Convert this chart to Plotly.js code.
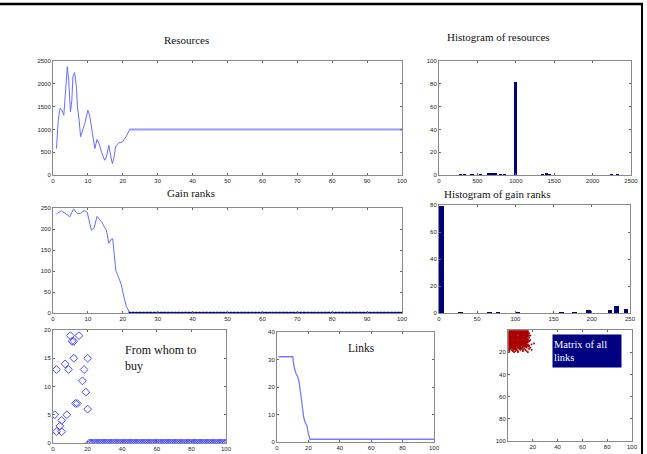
<!DOCTYPE html>
<html><head><meta charset="utf-8">
<script src="https://cdn.plot.ly/plotly-3.0.1.min.js"></script>
<style>html,body{margin:0;padding:0;background:#fff;}#chart{width:647px;height:454px;}</style>
</head><body><div id="chart"></div>
<script>
// ---------- DATA ----------
// shared tail of gain ranks (agents 22..100)
const rankTail = [22,23,24,25,26,27,28,29,30,31,32,33,34,35,36,37,38,39,40,41,42,43,44,45,46,47,48,49,50,51,52,53,54,55,56,57,58,59,60,61,62,63,64,65,66,67,68,69,70,71,72,73,74,75,76,77,78,79,80,81,82,83,84,85,86,87,88,89,90,91,92,93,94,95,96,97,98,99,100];

// Resources vs gain rank
const resHeadX = [1,1.5,2,2.6,3.1,3.4,3.8,4.1,4.5,5,5.4,5.7,6.2,6.7,7,7.5,7.9,8.4,9.1,10,10.5,11.3,12,12.6,13.2,13.9,14.8,15.3,16,16.5,17,17.4,18,18.9,19.9,20.9];
const resHeadY = [580,1200,1460,1420,1310,1640,1935,2375,2080,1385,1640,2155,2245,1935,1495,1200,835,945,1130,1420,1310,910,580,777,690,505,323,396,650,433,250,360,640,705,725,835];
const resTailY = [1000,1000,1000,1000,1000,1000,1000,1000,1000,1000,
                  1000,1000,1000,1000,1000,1000,1000,1000,1000,1000,
                  1000,1000,1000,1000,1000,1000,1000,1000,1000,1000,
                  1000,1000,1000,1000,1000,1000,1000,1000,1000,1000,
                  1000,1000,1000,1000,1000,1000,1000,1000,1000,1000,
                  1000,1000,1000,1000,1000,1000,1000,1000,1000,1000,
                  1000,1000,1000,1000,1000,1000,1000,1000,1000,1000,
                  1000,1000,1000,1000,1000,1000,1000,1000,1000];

// Gain ranks
const gainHeadX = [1,2.4,3.5,4.8,5.9,6.9,7.9,8.9,9.8,10.5,11,11.8,12.6,13.9,15.3,16,16.6,17.1,17.5,18,18.7,19.6,20.3,21];
const gainHeadY = [236,243,237,229,248,237,237,244,240,213,197,203,230,217,197,166,175,177,142,102,87,67,39,16];
const gainTailY = [0,0,0,0,0,0,0,0,0,0, 0,0,0,0,0,0,0,0,0,0, 0,0,0,0,0,0,0,0,0,0, 0,0,0,0,0,0,0,0,0,0,
                   0,0,0,0,0,0,0,0,0,0, 0,0,0,0,0,0,0,0,0,0, 0,0,0,0,0,0,0,0,0,0, 0,0,0,0,0,0,0,0,0];

// Histogram of resources (bin centres, counts)
const histResX = [280,330,430,540,640,690,730,800,850,1000,1350,1400,1440,2250,2330];
const histResY = [1,1,1,1,2,2,2,1,1,82,1,2,1,1,1];

// Histogram of gain ranks
const histGainX = [3,28,66,77,103,160,177,196,224,232,245];
const histGainY = [79,1,1,1,1,1,1,2,2,5,3];

// From whom to buy
const buyHeadX = [2,1,2,5,4,5,8,7,9,10,11,12,15,12,13,14,17,18,19,20,20,21];
const buyHeadY = [13,5,2,2,3,4,5,14,13,19,18,18,19,15,7,7,11,13,9,15,6,0];
const buyTailY = gainTailY;

// Links
const linksHeadX = [1,2,3,4,5,6,7,8,9,10,11,12,13,14,15,16,17,18,19,20,21];
const linksHeadY = [31,31,31,31,31,31,31,31,31,31,27,25,24,22,18,14,9,7,6,3,1];
const linksTailY = [1,1,1,1,1,1,1,1,1,1, 1,1,1,1,1,1,1,1,1,1, 1,1,1,1,1,1,1,1,1,1, 1,1,1,1,1,1,1,1,1,1,
                    1,1,1,1,1,1,1,1,1,1, 1,1,1,1,1,1,1,1,1,1, 1,1,1,1,1,1,1,1,1,1, 1,1,1,1,1,1,1,1,1];

// Matrix of all links (rows 1..20, columns 1..22)
const linkRows = [
 "1111111111111111......",
 "1111111111111111......",
 "11111111111111111.....",
 "1111111111111111......",
 "1111111.1111111111....",
 "1111111111111111......",
 "111111111111111.1.....",
 "1111111111111111......",
 "1111111111111111.1....",
 "11111111111111111.....",
 "1111111111111111......",
 "111111111111111.....1.",
 "1111111111111111..1...",
 "11111111111111111.....",
 "1111111111.1111.1.....",
 "111111.11111..1..1....",
 "11.1111.111.1...1.....",
 "1.11.11..1.1.1....1...",
 "1..1.1.1...1..1.......",
 "....1..1.......1......"
];

// ---------- BUILD ----------
const resX = resHeadX.concat(rankTail), resY = resHeadY.concat(resTailY);
const gainX = gainHeadX.concat(rankTail), gainY = gainHeadY.concat(gainTailY);
const buyX = buyHeadX.concat(rankTail), buyY = buyHeadY.concat(buyTailY);
const linksX = linksHeadX.concat(rankTail), linksY = linksHeadY.concat(linksTailY);
const mX = [], mY = [];
linkRows.forEach((row, r) => { for (let c = 0; c < row.length; c++) if (row[c] === '1') { mX.push(c + 1); mY.push(r + 1); } });

const W = 647, H = 454;
const px = v => v / W, py = v => 1 - v / H;
const LB = '#6b6bff', NAVY = '#00007a';
const SERIF = 'Liberation Serif, Times New Roman, serif';

const tickFont = {family: 'Liberation Sans, Arial', size: 6, color: '#222'};
function ax(x0, x1, range, tickvals, extra) {
  return Object.assign({
    domain: [x0, x1], range: range, tickvals: tickvals, ticks: 'inside', ticklen: 2,
    tickcolor: '#666', showline: true, linecolor: '#8a8a8a', linewidth: 1, mirror: 'ticks',
    showgrid: false, zeroline: false, tickfont: tickFont, fixedrange: true
  }, extra || {});
}

const traces = [
  {x: resX, y: resY, type: 'scatter', mode: 'lines', line: {color: LB, width: 1}, xaxis: 'x', yaxis: 'y'},
  {x: rankTail, y: resTailY, type: 'scatter', mode: 'lines', line: {color: '#9a9aff', width: 2}, xaxis: 'x', yaxis: 'y'},
  {x: gainX, y: gainY, type: 'scatter', mode: 'lines', line: {color: LB, width: 1}, xaxis: 'x2', yaxis: 'y2'},
  {x: rankTail, y: gainTailY, type: 'scatter', mode: 'lines+markers', line: {color: NAVY, width: 1.5},
   marker: {color: NAVY, size: 2.5, symbol: 'square'}, xaxis: 'x2', yaxis: 'y2'},
  {x: histResX, y: histResY, type: 'bar', width: 40, marker: {color: NAVY, line: {width: 0}}, xaxis: 'x3', yaxis: 'y3'},
  {x: histGainX, y: histGainY, type: 'bar', width: 6, marker: {color: NAVY, line: {width: 0}}, xaxis: 'x4', yaxis: 'y4'},
  {x: buyX, y: buyY, type: 'scatter', mode: 'markers', marker: {symbol: 'diamond-open', size: 6, color: '#4a4aff', line: {width: 1}}, xaxis: 'x5', yaxis: 'y5'},
  {x: linksX, y: linksY, type: 'scatter', mode: 'lines', line: {color: '#7a7aff', width: 1.3}, xaxis: 'x6', yaxis: 'y6'},
  {x: mX, y: mY, type: 'scatter', mode: 'markers', marker: {symbol: 'square', size: 1.7, color: '#a80000'}, xaxis: 'x7', yaxis: 'y7'}
];

function ann(text, x, y, opts) {
  return Object.assign({text: text, x: x, y: y, xref: 'paper', yref: 'paper', showarrow: false,
    xanchor: 'center', yanchor: 'middle', font: {family: SERIF, size: 11, color: '#111'}}, opts || {});
}

const t10 = [0,10,20,30,40,50,60,70,80,90,100];
const t20 = [0,20,40,60,80,100];
const layout = {
  width: W, height: H, margin: {l: 0, r: 0, t: 0, b: 0}, showlegend: false,
  paper_bgcolor: '#fff', plot_bgcolor: '#fff', bargap: 0,
  xaxis:  ax(px(53), px(402), [0, 100], t10, {anchor: 'y'}),
  yaxis:  ax(py(175), py(61), [0, 2500], [0,500,1000,1500,2000,2500], {anchor: 'x'}),
  xaxis2: ax(px(53), px(402), [0, 100], t10, {anchor: 'y2'}),
  yaxis2: ax(py(313), py(208), [0, 250], [0,50,100,150,200,250], {anchor: 'x2'}),
  xaxis3: ax(px(439), px(631), [0, 2500], [0,500,1000,1500,2000,2500], {anchor: 'y3'}),
  yaxis3: ax(py(175), py(61), [0, 100], t20, {anchor: 'x3'}),
  xaxis4: ax(px(439), px(630), [0, 250], [0,50,100,150,200,250], {anchor: 'y4'}),
  yaxis4: ax(py(313), py(205), [0, 80], [0,20,40,60,80], {anchor: 'x4'}),
  xaxis5: ax(px(53), px(226), [0, 100], t20, {anchor: 'y5'}),
  yaxis5: ax(py(443), py(330), [0, 20], [0,5,10,15,20], {anchor: 'x5'}),
  xaxis6: ax(px(277), px(434), [0, 100], t20, {anchor: 'y6'}),
  yaxis6: ax(py(442), py(332), [0, 40], [0,10,20,30,40], {anchor: 'x6'}),
  xaxis7: ax(px(508), px(632), [0, 100], [20,40,60,80,100], {anchor: 'y7'}),
  yaxis7: ax(py(441), py(330), [100, 0], [20,40,60,80,100], {anchor: 'x7'}),
  annotations: [
    ann('Resources', px(187), py(40)),
    ann('Gain ranks', px(191), py(193)),
    ann('Histogram of resources', px(498), py(37)),
    ann('Histogram of gain ranks', px(497), py(194)),
    ann('Links', px(361), py(348), {font: {family: SERIF, size: 11.5, color: '#111'}}),
    ann('From whom to<br>buy', px(123), py(341), {xanchor: 'left', yanchor: 'top', align: 'left',
        font: {family: SERIF, size: 12, color: '#111'}}),
    ann('Matrix of all<br>links', px(552), py(334), {xanchor: 'left', yanchor: 'top', align: 'left',
        width: 66, height: 30, bgcolor: '#000080', borderpad: 1, valign: 'middle',
        font: {family: SERIF, size: 10.5, color: '#ffffff'}})
  ],
  shapes: [
    {type: 'line', xref: 'paper', yref: 'paper', x0: 0, x1: px(643), y0: py(4), y1: py(4), line: {color: '#000', width: 2.5}},
    {type: 'line', xref: 'paper', yref: 'paper', x0: px(642), x1: px(642), y0: py(3), y1: 0, line: {color: '#000', width: 2}}
  ]
};
Plotly.newPlot('chart', traces, layout, {displayModeBar: false, staticPlot: true});
</script></body></html>
